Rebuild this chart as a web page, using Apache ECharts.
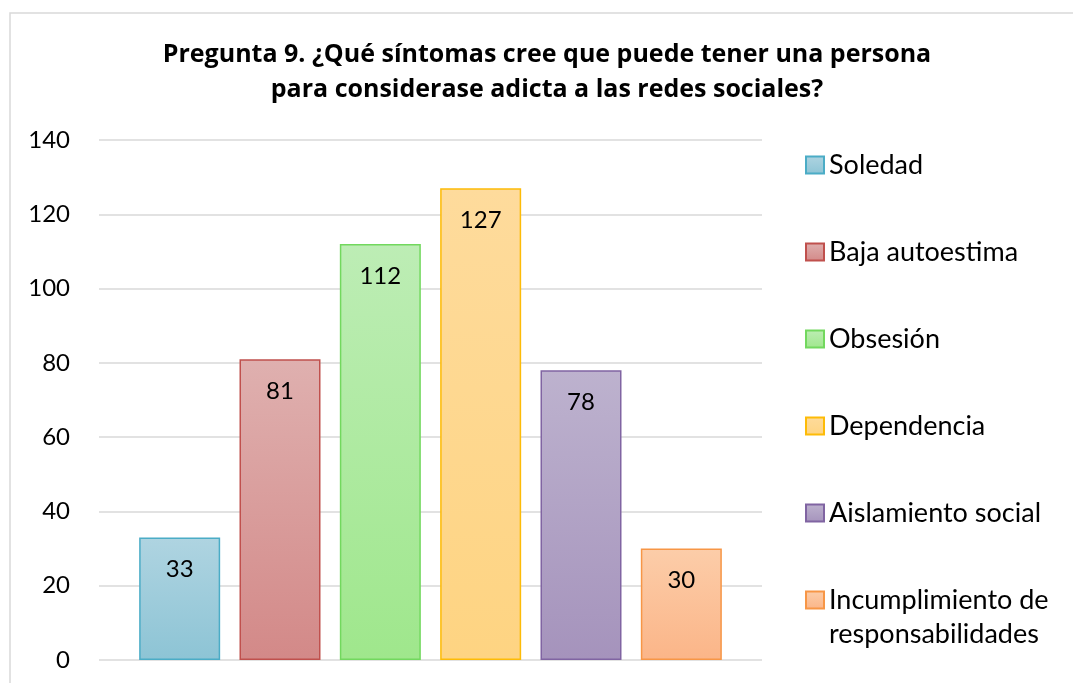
<!DOCTYPE html>
<html>
<head>
<meta charset="utf-8">
<script src="https://cdn.jsdelivr.net/npm/echarts@6/dist/echarts.min.js"></script>
<style>
  html, body { margin: 0; padding: 0; background: #fff; }
  #chart { width: 1073px; height: 683px; }
</style>
</head>
<body>
<div id="chart"></div>
<script>
  // datos de la pregunta 9
  var categorias = ['Soledad', 'Baja autoestima', 'Obsesión', 'Dependencia', 'Aislamiento social', 'Incumplimiento de responsabilidades'];
  var valores = [33, 81, 112, 127, 78, 30];
  var ejeY = [0, 20, 40, 60, 80, 100, 120, 140];

  // colores: arriba, abajo, borde
  var colores = [
    ['#afd4e1', '#8dc4d5', '#4bacc6'],
    ['#dfb0af', '#d38988', '#c0504d'],
    ['#bdedb5', '#9fe78c', '#72d85e'],
    ['#fedb9c', '#fed482', '#fdbb07'],
    ['#bdb2ce', '#a593bc', '#8064a2'],
    ['#fccda9', '#fbb588', '#f79646']
  ];

  var fuente = 'Lato, "Open Sans", sans-serif';

  var series = [];
  for (var i = 0; i < categorias.length; i++) {
    var d = [];
    for (var j = 0; j < valores.length; j++) {
      d.push(j === i ? valores[j] : '-');
    }
    series.push({
      name: categorias[i],
      type: 'bar',
      xAxisIndex: 1,
      yAxisIndex: 1,
      stack: 'total',
      barWidth: 81,
      data: d,
      itemStyle: {
        color: new echarts.graphic.LinearGradient(0, 0, 0, 1, [
          { offset: 0, color: colores[i][0] },
          { offset: 1, color: colores[i][1] }
        ]),
        borderColor: colores[i][2],
        borderWidth: 1.5
      },
      label: {
        show: true,
        position: 'insideTop',
        distance: 20,
        color: '#000',
        fontSize: 24,
        fontFamily: fuente
      }
    });
  }

  var ultimo = categorias[categorias.length - 1];

  var legendText = {
    fontFamily: fuente,
    fontSize: 27,
    lineHeight: 34,
    color: '#000'
  };

  var chart = echarts.init(document.getElementById('chart'));
  chart.setOption({
    backgroundColor: '#fff',
    animation: false,
    title: {
      text: 'Pregunta 9. ¿Qué síntomas cree que puede tener una persona\npara considerase adicta a las redes sociales?',
      left: 547,
      textAlign: 'center',
      top: 37,
      padding: 0,
      textStyle: {
        fontFamily: '"Open Sans", Lato, sans-serif',
        fontWeight: 'bold',
        fontSize: 25,
        lineHeight: 35,
        color: '#000'
      }
    },
    legend: [{
      orient: 'vertical',
      left: 800,
      top: 143,
      itemWidth: 18,
      itemHeight: 17,
      itemGap: 53,
      icon: 'rect',
      data: categorias.slice(0, categorias.length - 1),
      textStyle: legendText
    }, {
      // linea vacia arriba para que el cuadro quede con la primera linea
      orient: 'vertical',
      left: 800,
      top: 544,
      itemWidth: 18,
      itemHeight: 17,
      icon: 'rect',
      data: [ultimo],
      formatter: function () {
        return '\nIncumplimiento de\nresponsabilidades';
      },
      textStyle: legendText
    }],
    graphic: [{
      type: 'rect',
      shape: { x: 10, y: 13, width: 1100, height: 700 },
      style: { fill: 'none', stroke: '#d9d9d9', lineWidth: 1.5 },
      silent: true
    }],
    grid: [
      { left: 99, right: 311, top: 140, bottom: 23 },
      { left: 129.5, right: 341.5, top: 140, bottom: 23 }
    ],
    xAxis: [
      { type: 'value', gridIndex: 0, min: 0, max: 1, show: false },
      { type: 'category', gridIndex: 1, data: categorias, show: false }
    ],
    yAxis: [
      {
        type: 'value',
        gridIndex: 0,
        min: ejeY[0],
        max: ejeY[ejeY.length - 1],
        interval: 20,
        axisLine: { show: false },
        axisTick: { show: false },
        axisLabel: {
          margin: 29,
          color: '#000',
          fontSize: 24,
          fontFamily: fuente
        },
        splitLine: { lineStyle: { color: '#d9d9d9', width: 1.5 } }
      },
      {
        type: 'value',
        gridIndex: 1,
        min: ejeY[0],
        max: ejeY[ejeY.length - 1],
        interval: 20,
        show: false,
        splitLine: { show: false }
      }
    ],
    series: series
  });
</script>
</body>
</html>
